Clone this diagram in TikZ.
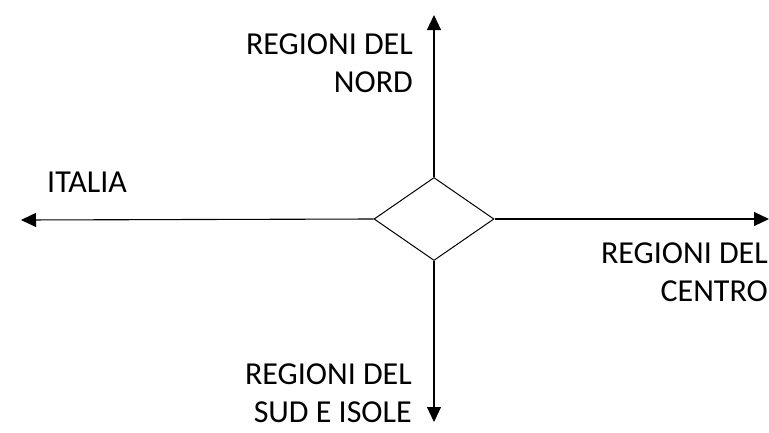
\documentclass[tikz,border=0pt]{standalone}
\usepackage{fontspec}
\setmainfont{Carlito}
\usetikzlibrary{arrows.meta}
\usetikzlibrary{shapes.geometric}

\begin{document}
\begin{tikzpicture}[x=1pt,y=-1pt,
  arm/.style={line width=1.1pt, -{Triangle[length=15pt,width=14pt]}},
  txt/.style={inner sep=0pt, align=right, font=\fontsize{32}{38}\selectfont}]
\useasboundingbox (0,0) rectangle (769,432);
%%% centre
\node[diamond, draw, line width=1pt, minimum width=120pt, minimum height=83pt, inner sep=0pt] (hub) at (434,219) {};
% arrow ends
\coordinate (north end) at (434,15);
\coordinate (south end) at (434,422);
\coordinate (west end) at (21,220);
\coordinate (east end) at (769,219);
% draws arrows
\draw[arm] (hub.north) -- (north end);
\draw[arm] (hub.south) -- (south end);
\draw[arm] (hub.west) -- (west end);
\draw[arm] (hub.east) -- (east end);
%%% labels
\node[txt, anchor=north east] (nord) at (413,34) {REGIONI DEL\\NORD};
\node[txt, anchor=base west] (italia) at (47,192) {ITALIA};
\node[txt, anchor=north east] (centro) at (768,243) {REGIONI DEL\\CENTRO};
\node[txt, anchor=north east] (sud) at (412,364) {REGIONI DEL\\SUD E ISOLE};
\end{tikzpicture}
\end{document}
